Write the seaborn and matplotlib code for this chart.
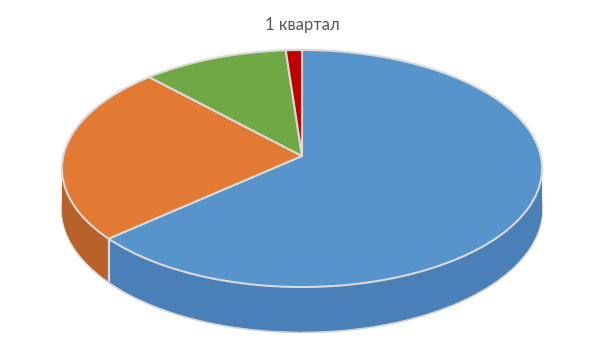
import numpy as np
import matplotlib
matplotlib.use("Agg")
import matplotlib.pyplot as plt
import matplotlib.transforms as mtransforms
import seaborn as sns

# ---- data ----
categories = ["Сегмент 1", "Сегмент 2", "Сегмент 3", "Сегмент 4"]
values = [63.6, 24.3, 10.9, 1.2]
title = "1 квартал"

top_colors = ["#5794CB", "#E37A33", "#70A845", "#C00000"]
wall_colors = ["#4A80B8", "#B9612A", "#5E9038", "#9A0000"]

sns.set_theme(style="white")
plt.rcParams["font.family"] = ["Lato", "DejaVu Sans"]

# ---- projection (tilted disc with mild perspective) ----
CX, CY = 302.0, 184.0      # vertex position in pixel coords (y up)
A, B, K, H = 238.7, 117.2, 0.1055, 40.5


class Persp(mtransforms.Transform):
    input_dims = 2
    output_dims = 2
    is_separable = False
    has_inverse = False

    def __init__(self, z):
        super().__init__()
        self.z = z

    def transform_non_affine(self, pts):
        pts = np.asarray(pts, dtype=float)
        u, v = pts[:, 0], pts[:, 1]
        d = 1.0 + K * v
        X = CX + A * u / d
        Y = CY + (B * v - H * self.z) / d
        return np.column_stack([X, Y])


fig = plt.figure(figsize=(6.05, 3.4), dpi=100)
ax = fig.add_axes([0, 0, 1, 1])

# side wall: stack of pies from bottom to top
n_layers = 60
for i, z in enumerate(np.linspace(1.0, 0.0, n_layers + 1)[:-1]):
    edge = "#D0D0D0" if i == 0 else "none"
    wedges, _ = ax.pie(values, colors=wall_colors, startangle=90,
                       counterclock=False,
                       wedgeprops=dict(edgecolor=edge, linewidth=1.4 if i == 0 else 0,
                                       antialiased=True))
    tr = Persp(z) + ax.transData
    for w in wedges:
        w.set_transform(tr)

# vertical seam on the front wall between first and second slice
ang = np.deg2rad(90 - 360 * values[0] / sum(values))
pu, pv = np.cos(ang), np.sin(ang)
p_top = Persp(0).transform(np.array([[pu, pv]]))[0]
p_bot = Persp(1).transform(np.array([[pu, pv]]))[0]
ax.plot([p_top[0], p_bot[0]], [p_top[1], p_bot[1]], color="#D9D9D9", lw=1.6,
        solid_capstyle="butt", zorder=3)

# top surface
wedges, _ = ax.pie(values, colors=top_colors, startangle=90, counterclock=False,
                   wedgeprops=dict(edgecolor="#D9D9D9", linewidth=1.5))
tr = Persp(0) + ax.transData
for w in wedges:
    w.set_transform(tr)
    w.set_zorder(4)

ax.set_aspect("auto")
ax.set_xlim(0, 605)
ax.set_ylim(0, 340)
ax.axis("off")

fig.text(302 / 605, 1 - 25 / 340, title, ha="center", va="center",
         fontsize=12, color="#595959")

fig.savefig("out.png", dpi=100, facecolor="white")
